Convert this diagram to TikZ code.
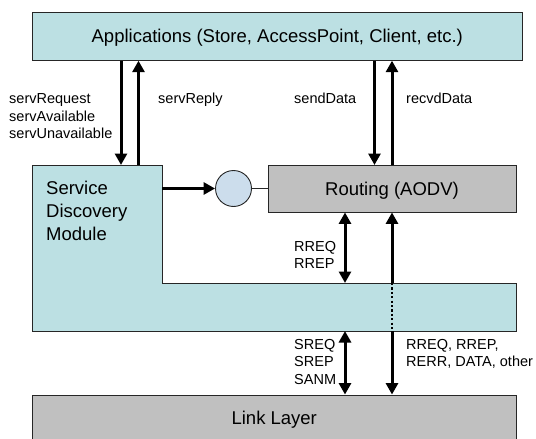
\documentclass[tikz,border=0pt]{standalone}
\usepackage{fontspec}
\setmainfont{Liberation Sans}
\usetikzlibrary{arrows.meta,calc}
\definecolor{appfill}{HTML}{BCE0E3}
\definecolor{layergrey}{HTML}{C0C0C0}
\definecolor{circfill}{HTML}{CCDDEC}
\definecolor{edgecol}{HTML}{262626}
\newcommand\bigtxt{\fontsize{18.5}{23}\selectfont}
\newcommand\smalltxt{\fontsize{14.5}{17.3}\selectfont}
\begin{document}
\begin{tikzpicture}[x=1pt,y=-1pt,
  box/.style={draw=edgecol, line width=0.9pt, inner sep=0pt, font=\bigtxt,
              text height=13.2pt, text depth=0pt},
  arr/.style={line width=3pt, -{Triangle[length=11.5pt,width=12pt]}},
  darr/.style={line width=3pt, {Triangle[length=11.5pt,width=12pt]}-{Triangle[length=11.5pt,width=12pt]}},
  dotline/.style={line width=2.2pt, dash pattern=on 2.2pt off 2.2pt},
  lbl/.style={font=\smalltxt, inner sep=0pt, align=left}]
\useasboundingbox (0,0) rectangle (536,439);

% boxes
\node[box, fill=appfill, minimum width=489.5pt, minimum height=48pt] (apps) at (277.25,36.25)
  {Applications (Store, AccessPoint, Client, etc.)};

\coordinate (sdmNW) at (32.5,165);
\coordinate (sdmNE) at (162,165);
\coordinate (sdmIn) at (162,283);
\coordinate (bandNE) at (516,283);
\coordinate (bandSE) at (516,331);
\coordinate (sdmSW) at (32.5,331);
\draw[draw=edgecol, line width=0.9pt, fill=appfill]
  (sdmNW) -- (sdmNE) -- (sdmIn) -- (bandNE) -- (bandSE) -- (sdmSW) -- cycle;
% base anchor of a multi-line node = baseline of its last line
\node[anchor=base west, font=\bigtxt, align=left, inner sep=0pt] (sdmtext) at (46,240.6)
  {Service\\Discovery\\Module};

\node[box, fill=layergrey, minimum width=248pt, minimum height=47pt] (routing) at (392,188.5)
  {Routing (AODV)};
\node[box, fill=layergrey, minimum width=483.5pt, minimum height=46pt] (link) at (274.25,418)
  {Link Layer};
\node[circle, draw=edgecol, line width=0.9pt, fill=circfill, minimum size=36pt, inner sep=0pt]
  (relay) at (233.5,188.5) {};

% connectors
\coordinate (sdA) at (121,165);
\coordinate (sdB) at (138.5,165);
\coordinate (rtA) at (374.5,165);
\draw[arr] (apps.south -| sdA) -- (sdA);
\draw[arr] (sdB) -- (apps.south -| sdB);
\draw[arr] (apps.south -| rtA) -- (rtA);
\draw[arr] (routing.north) -- (apps.south -| routing.north);

\draw[arr] (sdmNE |- relay) -- (relay.west);
\draw[line width=0.8pt, draw=edgecol] (relay.east) -- (relay.east -| routing.west);

\coordinate (bandA) at (345,283);
\coordinate (bandB) at (345,331);
\coordinate (bandC) at (392,283);
\coordinate (bandD) at (392,331);
\draw[darr] (routing.south -| bandA) -- (bandA);
\draw[darr] (bandB) -- (link.north -| bandB);
\draw[arr] (bandC) -- (routing.south);
\draw[dotline] (bandC) -- (bandD);
\draw[arr] (bandD) -- (link.north -| bandD);

% labels
\node[lbl, anchor=base west] (lblSD) at (9,138.3) {servRequest\\servAvailable\\servUnavailable};
\node[lbl, anchor=base west] (lblRep) at (158,103.7) {servReply};
\node[lbl, anchor=base west] (lblSend) at (294,103.7) {sendData};
\node[lbl, anchor=base west] (lblRecv) at (406,103.7) {recvdData};
\node[lbl, anchor=base west] (lblRR) at (294,268.5) {RREQ\\RREP};
\node[lbl, anchor=base west] (lblS) at (294,384.1) {SREQ\\SREP\\SANM};
\node[lbl, anchor=base west] (lblRL) at (406,366.8) {RREQ, RREP,\\RERR, DATA, other};
\end{tikzpicture}
\end{document}
